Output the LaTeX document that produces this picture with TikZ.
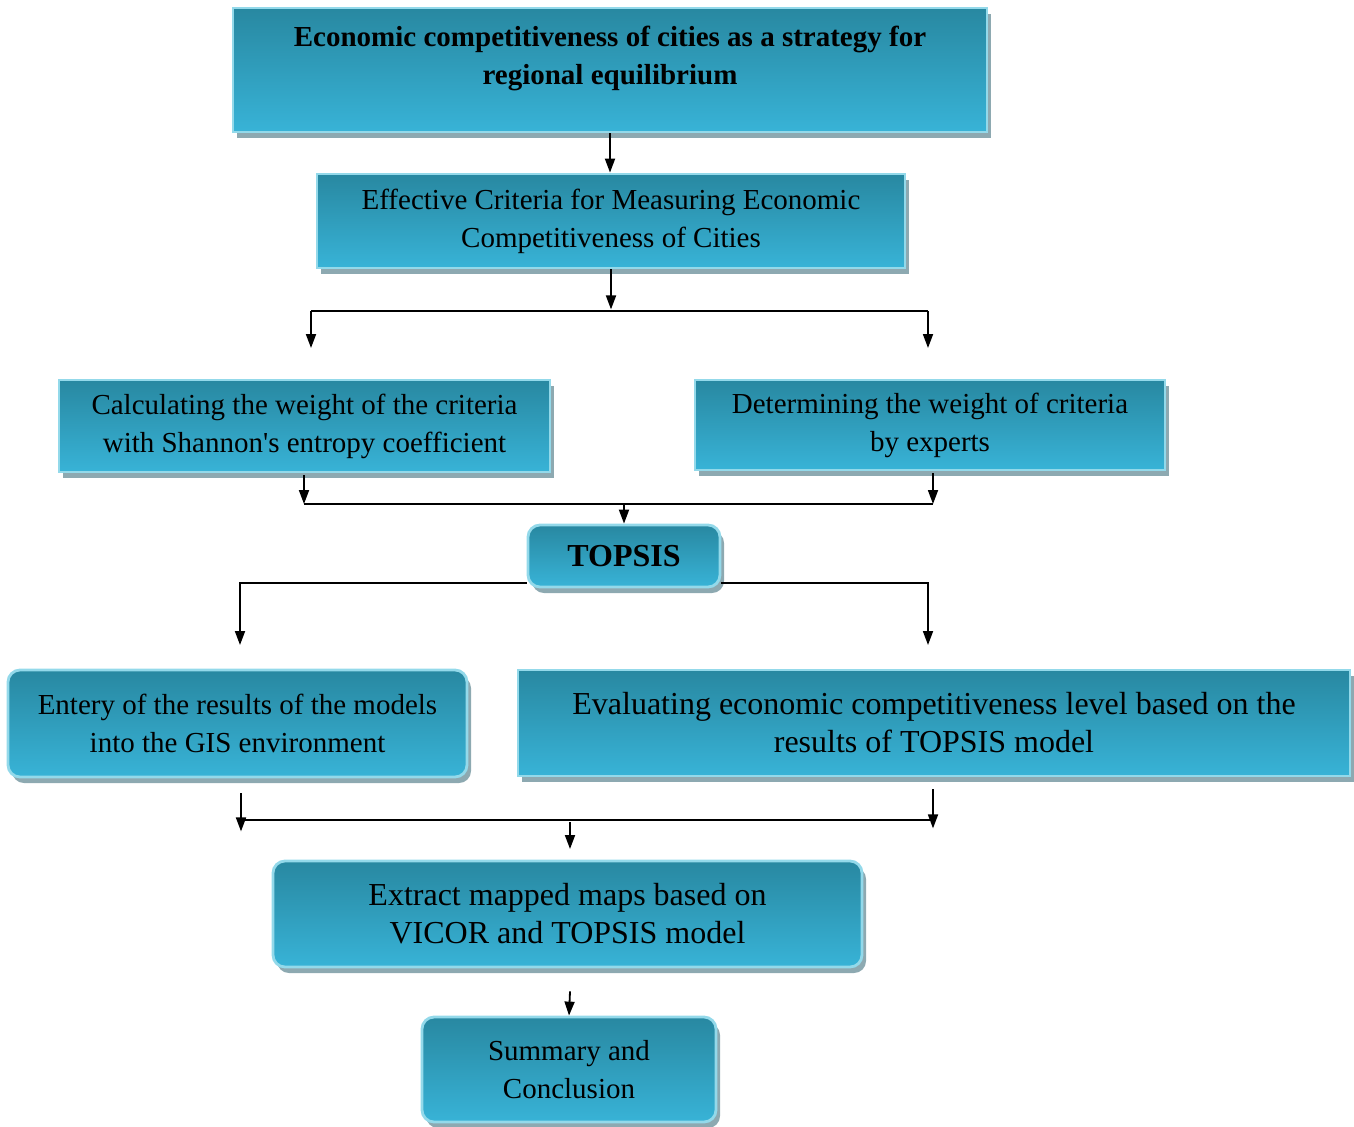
\documentclass[tikz,border=0pt]{standalone}
\usepackage{fontspec}
\setmainfont{Liberation Serif}
\usetikzlibrary{arrows.meta,shadows}

\definecolor{boxtop}{HTML}{2888A1}
\definecolor{boxbot}{HTML}{38B3D7}
\definecolor{boxrim}{HTML}{93D9EA}
\definecolor{boxshade}{HTML}{8DA9B1}

\tikzset{
  stage/.style={draw=boxrim, line width=1.4pt, top color=boxtop, bottom color=boxbot,
    drop shadow={shadow xshift=2pt, shadow yshift=-3pt, fill=boxshade, opacity=1},
    align=center, inner sep=0pt, font=\fontsize{14.5}{19}\selectfont},
  roundstage/.style={stage, rounded corners=6pt},
  bigtext/.style={font=\fontsize{16}{19}\selectfont},
  link/.style={line width=0.9pt}
}

\begin{document}
\begin{tikzpicture}[x=0.5pt,y=-0.5pt,>={Triangle[length=7pt,width=5pt]}]
          \useasboundingbox (0,0) rectangle (1354,1126);

          % boxes
          \node[stage,minimum width=377pt,minimum height=62pt] (title) at (610,70) {};
          \node[font=\fontsize{14.5}{19}\selectfont\bfseries,align=center] (titletext) at (610,58)
            {Economic competitiveness of cities as a strategy for\\regional equilibrium};
          \node[stage,minimum width=294pt,minimum height=47pt] (crit) at (611,221)
            {Effective Criteria for Measuring Economic\\Competitiveness of Cities};
          \node[stage,minimum width=245.5pt,minimum height=46pt] (shannon) at (304.5,426)
            {Calculating the weight of the criteria\\with Shannon\textquotesingle s entropy coefficient};
          \node[stage,minimum width=235pt,minimum height=45pt] (experts) at (930,425)
            {Determining the weight of criteria\\by experts};
          \node[roundstage,minimum width=96pt,minimum height=31pt,font=\fontsize{16}{19}\selectfont\bfseries] (topsis) at (624,556) {TOPSIS};
          \node[roundstage,minimum width=229.5pt,minimum height=53.5pt] (gis) at (237.5,723.5)
            {Entery of the results of the models\\into the GIS environment};
          \node[stage,bigtext,minimum width=416pt,minimum height=53pt] (evaluate) at (934,723)
            {Evaluating economic competitiveness level based on the\\results of TOPSIS model};
          \node[roundstage,bigtext,minimum width=294.5pt,minimum height=53pt] (maps) at (567.5,914)
            {Extract mapped maps based on\\ VICOR and TOPSIS model};
          \node[roundstage,minimum width=147pt,minimum height=52.5pt] (summary) at (569,1069.5)
            {Summary and\\Conclusion};

          % free ends of the arrows
          \coordinate (split) at (610,311);
          \coordinate (leftend) at (311,348);
          \coordinate (rightend) at (928,348);
          \coordinate (joinA) at (304,504);
          \coordinate (joinB) at (933,504);
          \coordinate (gisend) at (240,645);
          \coordinate (evalend) at (928,645);
          \coordinate (joinC) at (241,820);
          \coordinate (joinD) at (933,820);
          \coordinate (mapsend) at (570,849);

          % connectors
          \draw[link,->] (title.south) -- (title.south |- crit.north);
          \draw[link,->] (crit.south) -- ++(0,40);
          \draw[link] (split -| leftend) -- (split -| rightend);
          \draw[link,->] (split -| leftend) -- (leftend);
          \draw[link,->] (split -| rightend) -- (rightend);

          \draw[link,->] (shannon.south -| joinA) ++(0,2) -- (joinA);
          \draw[link,->] (experts.south -| joinB) ++(0,2) -- (joinB);
          \draw[link] (joinA) -- (joinB);
          \draw[link,->] (joinA -| topsis.north) -- (topsis.north);

          \draw[link,->] (topsis.west |- 0,583) -- (gisend |- 0,583) -- (gisend);
          \draw[link,->] (topsis.east |- 0,583) -- (evalend |- 0,583) -- (evalend);

          \draw[link,->] (gis.south -| joinC) ++(0,15) -- ++(0,38);
          \draw[link,->] (evaluate.south -| joinD) ++(0,12) -- ++(0,39);
          \draw[link] (joinC) -- (joinD);
          \draw[link,->] (mapsend |- 0,822) -- (mapsend);

          \draw[link,->] (maps.south) ++(2.5,23) -- (summary.north);
        \end{tikzpicture}
\end{document}
